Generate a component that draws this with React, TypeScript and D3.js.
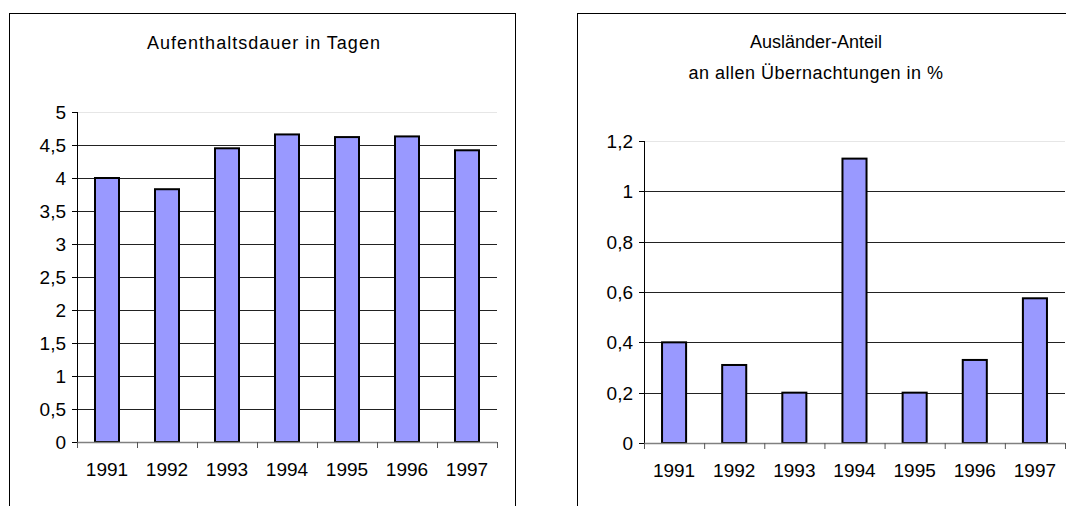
import * as d3 from 'd3';

// Shared categories
const years = ['1991', '1992', '1993', '1994', '1995', '1996', '1997'];

// Left chart: Aufenthaltsdauer in Tagen
const stayTitle = ['Aufenthaltsdauer in Tagen'];
const stayValues = [4.0, 3.83, 4.45, 4.66, 4.62, 4.63, 4.42];
const stayTicks = [0, 0.5, 1, 1.5, 2, 2.5, 3, 3.5, 4, 4.5, 5];

// Right chart: Ausländer-Anteil
const foreignTitle = ['Ausländer-Anteil', 'an allen Übernachtungen in %'];
const foreignValues = [0.4, 0.31, 0.2, 1.13, 0.2, 0.33, 0.575];
const foreignTicks = [0, 0.2, 0.4, 0.6, 0.8, 1, 1.2];

const FONT = 'Liberation Sans, Arial, sans-serif';
const fmt = (v: number) => String(v).replace('.', ',');

interface Box { x0: number; x1: number; y0: number; y1: number }

interface PanelProps {
  title: string[];
  titleX: number;
  titleY: number[];
  titleSpacing: number[];
  values: number[];
  ticks: number[];
  frame: Box;
  plot: Box;
}

function BarPanel({ title, titleX, titleY, titleSpacing, values, ticks, frame, plot }: PanelProps) {
  const yMax = ticks[ticks.length - 1];
  const y = d3.scaleLinear().domain([0, yMax]).range([plot.y1, plot.y0]);
  const x = d3
    .scaleBand<string>()
    .domain(years)
    .range([plot.x0, plot.x1])
    .paddingInner(0.6)
    .paddingOuter(0.3);
  const step = x.step();
  const boundaries = d3.range(years.length + 1).map((i) => plot.x0 + i * step);
  const py = (t: number) => Math.round(y(t)) + 0.5;

  return (
    <g>
      <rect
        x={frame.x0 + 0.5}
        y={frame.y0 + 0.5}
        width={frame.x1 - frame.x0}
        height={frame.y1 - frame.y0}
        fill="#fff"
        stroke="#000"
        strokeWidth={1}
      />
      {title.map((t, i) => (
        <text
          key={t}
          x={titleX}
          y={titleY[i]}
          textAnchor="middle"
          fontFamily={FONT}
          fontSize={18}
          letterSpacing={titleSpacing[i]}
          fill="#000"
        >
          {t}
        </text>
      ))}

      {/* gridlines */}
      {ticks.slice(1).map((t) => (
        <line
          key={t}
          x1={plot.x0}
          x2={plot.x1}
          y1={py(t)}
          y2={py(t)}
          stroke={t === yMax ? '#e6e6e6' : '#222'}
          strokeWidth={1}
        />
      ))}

      {/* bars */}
      {values.map((v, i) => (
        <rect
          key={years[i]}
          x={x(years[i])}
          y={y(v)}
          width={x.bandwidth()}
          height={y(0) - y(v)}
          fill="#9999ff"
          stroke="#000"
          strokeWidth={2}
        />
      ))}

      {/* y axis */}
      <line x1={plot.x0 + 0.5} x2={plot.x0 + 0.5} y1={plot.y0} y2={plot.y1 + 6} stroke="#000" />
      {ticks.map((t) => (
        <g key={t}>
          <line x1={plot.x0 - 5} x2={plot.x0} y1={py(t)} y2={py(t)} stroke="#000" />
          <text
            x={plot.x0 - 11}
            y={y(t)}
            dy="0.36em"
            textAnchor="end"
            fontFamily={FONT}
            fontSize={19}
            fill="#000"
          >
            {fmt(t)}
          </text>
        </g>
      ))}

      {/* x axis */}
      <line x1={plot.x0} x2={plot.x1} y1={py(0)} y2={py(0)} stroke="#808080" strokeWidth={1.5} />
      {boundaries.map((b) => (
        <line key={b} x1={b + 0.5} x2={b + 0.5} y1={y(0)} y2={y(0) + 6} stroke="#555" />
      ))}
      {years.map((yr) => (
        <text
          key={yr}
          x={(x(yr) ?? 0) + x.bandwidth() / 2}
          y={y(0) + 34}
          textAnchor="middle"
          fontFamily={FONT}
          fontSize={19}
          fill="#000"
        >
          {yr}
        </text>
      ))}
    </g>
  );
}

export default function App() {
  return (
    <svg
      width={1066}
      height={506}
      style={{ position: 'absolute', left: 0, top: 0, background: '#fff' }}
    >
      <BarPanel
        title={stayTitle}
        titleX={264}
        titleY={[49]}
        titleSpacing={[1]}
        values={stayValues}
        ticks={stayTicks}
        frame={{ x0: 9, x1: 515, y0: 13, y1: 530 }}
        plot={{ x0: 77, x1: 497, y0: 112, y1: 442 }}
      />
      <BarPanel
        title={foreignTitle}
        titleX={816}
        titleY={[48, 79]}
        titleSpacing={[0, 0.5]}
        values={foreignValues}
        ticks={foreignTicks}
        frame={{ x0: 577, x1: 1090, y0: 13, y1: 530 }}
        plot={{ x0: 644, x1: 1065, y0: 141, y1: 443 }}
      />
    </svg>
  );
}
